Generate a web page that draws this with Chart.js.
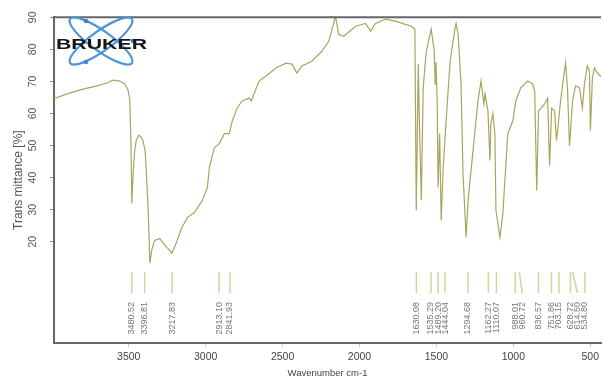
<!DOCTYPE html>
<html><head><meta charset="utf-8">
<script src="https://cdn.jsdelivr.net/npm/chart.js@4"></script>
<style>html,body{margin:0;padding:0;background:#fff}canvas{display:block}</style>
</head><body>
<canvas id="c" width="603" height="379"></canvas>
<script>
const wavenumbers = [3986,3901,3798,3707,3642,3603,3558,3526,3506,3494,3486,3480,3472,3462,3452,3435,3420,3408,3394,3386,3374,3363,3351,3332,3299,3267,3240,3220,3190,3157,3118,3073,3021,2989,2976,2944,2911,2879,2847,2827,2795,2763,2717,2704,2653,2607,2543,2478,2439,2407,2375,2310,2245,2200,2161,2155,2135,2103,2025,1961,1928,1896,1831,1767,1702,1663,1640,1631,1618,1611,1598,1586,1566,1534,1514,1508,1503,1495,1489,1479,1469,1456,1437,1411,1379,1372,1359,1340,1327,1307,1294,1262,1230,1210,1191,1184,1165,1152,1146,1133,1120,1113,1087,1068,1036,1003,984,952,906,874,861,848,836,796,777,764,751,732,719,693,674,660,648,635,615,596,570,551,538,519,505,499,486,473,454,434,430];
const transmittance = [64.6,66.1,67.6,68.6,69.5,70.4,70.1,69.2,67.6,64.5,52,31.9,41,48,51.5,53.2,52.8,51.5,48.5,42,30,13.3,17.3,20.4,21,18.9,17.6,16.4,19.8,24.2,27.6,29.1,32.9,36.9,43.1,49.3,50.6,53.7,53.7,57.7,61.7,63.9,64.8,63.9,70.1,71.7,74.2,75.7,75.4,72.6,74.8,76.3,79.4,82.5,89.4,90,84.7,84.1,87.2,88.1,85.7,88.1,89.4,88.8,87.8,87.2,86.3,29.8,75.4,57.7,32.9,68,79.4,86.3,79.4,69.2,76,63.9,36.9,53.7,26.6,43.1,57.7,76.3,86.6,88.1,84.7,69.2,41.2,21.4,32.9,48.4,63.9,70.1,63,66.1,60.8,45.3,56.8,59.9,53.7,29.8,21.4,28.8,53.7,57.7,63.9,68,70.1,69.2,67,36,60.8,63,64.8,43.7,61.7,60.8,51.5,63.9,71,75.7,68,49.9,63.9,68.6,68,61.7,69.2,74.8,73.2,54.6,71,74.2,72.6,71.7,71.5];
const xTicks = [3500,3000,2500,2000,1500,1000,500];
const yTicks = [20,30,40,50,60,70,80,90];
const peakLabels = ['3480.52','3396.81','3217.83','2913.10','2841.93','1630.08','1535.29','1489.20','1444.04','1294.68','1162.27','1110.07','988.01','960.72','836.57','751.86','703.15','628.72','614.50','534.80'];
const peakPositions = peakLabels.map(Number);

const decor = {
  id: 'decor',
  afterDraw(chart) {
    const {ctx, chartArea: a, scales: {x}} = chart;
    ctx.save();
    // top frame line
    ctx.strokeStyle = '#666'; ctx.lineWidth = 2;
    ctx.beginPath(); ctx.moveTo(a.left - 1, a.top); ctx.lineTo(a.right, a.top); ctx.stroke();
    // peak markers and labels
    let prev = -Infinity;
    const lx = peakPositions.map(p => { let px = x.getPixelForValue(p); if (px < prev + 7) px = prev + 7; prev = px; return px; });
    ctx.strokeStyle = '#cfd89a'; ctx.lineWidth = 1.5;
    peakPositions.forEach((p, i) => {
      const px = x.getPixelForValue(p);
      ctx.beginPath(); ctx.moveTo(px, 272); ctx.lineTo(lx[i], 293); ctx.stroke();
    });
    ctx.fillStyle = '#777'; ctx.font = '9px "Liberation Sans", Arial, sans-serif';
    ctx.textAlign = 'right'; ctx.textBaseline = 'middle';
    peakLabels.forEach((t, i) => {
      ctx.save(); ctx.translate(lx[i], 302); ctx.rotate(-Math.PI / 2); ctx.fillText(t, 0, 0); ctx.restore();
    });
    // logo
    ctx.strokeStyle = '#4a94dc'; ctx.lineWidth = 2.2;
    [0.62, -0.62].forEach(r => {
      ctx.beginPath(); ctx.ellipse(101, 41, 38, 10, r, 0, Math.PI * 2); ctx.stroke();
    });
    ctx.fillStyle = '#3d86d0';
    [[86, 21], [86, 62], [133, 41]].forEach(([cx, cy]) => { ctx.beginPath(); ctx.arc(cx, cy, 2.3, 0, Math.PI * 2); ctx.fill(); });
    ctx.fillStyle = '#151515'; ctx.font = 'bold 15px "Liberation Sans", Arial, sans-serif';
    ctx.textAlign = 'left'; ctx.textBaseline = 'alphabetic';
    const w = ctx.measureText('BRUKER').width;
    ctx.translate(56, 48.5); ctx.scale(91 / w, 1); ctx.fillText('BRUKER', 0, 0);
    ctx.restore();
  }
};

new Chart(document.getElementById('c'), {
  type: 'line',
  data: {
    datasets: [{
      data: wavenumbers.map((w, i) => ({x: w, y: transmittance[i]})),
      borderColor: '#a8a55c', borderWidth: 1.2, pointRadius: 0, tension: 0, fill: false
    }]
  },
  options: {
    responsive: false, devicePixelRatio: 1, animation: false,
    layout: {padding: {top: 16, right: 0, left: 0, bottom: 0}},
    plugins: {legend: {display: false}, tooltip: {enabled: false}},
    scales: {
      x: {
        type: 'linear', reverse: true, min: 430, max: 3986,
        afterBuildTicks: s => { s.ticks = xTicks.map(v => ({value: v})); },
        afterFit: s => { s.height = 36; },
        ticks: {callback: v => String(v), color: '#444', font: {size: 10.5, family: '"Liberation Sans", Arial, sans-serif'}, padding: 4, maxRotation: 0, autoSkip: false},
        grid: {drawOnChartArea: false, drawTicks: true, tickLength: 4, color: '#ccc'},
        border: {display: true, color: '#666', width: 2},
        title: {display: true, text: 'Wavenumber cm-1', color: '#444', font: {size: 9.5, family: '"Liberation Sans", Arial, sans-serif'}, padding: {top: 0, bottom: 0}}
      },
      y: {
        type: 'linear', min: -11.6, max: 90,
        afterBuildTicks: s => { s.ticks = yTicks.map(v => ({value: v})); },
        afterFit: s => { s.width = 54; },
        ticks: {color: '#555', minRotation: 90, maxRotation: 90, crossAlign: 'center', padding: 11, font: {size: 10.5, family: '"Liberation Sans", Arial, sans-serif'}},
        grid: {drawOnChartArea: false, drawTicks: true, tickLength: 4, color: '#888'},
        border: {display: true, color: '#666', width: 2},
        title: {display: true, text: 'Trans mittance [%]', color: '#555', font: {size: 12, family: '"Liberation Sans", Arial, sans-serif'}, padding: {top: 11, bottom: 0}}
      }
    }
  },
  plugins: [decor]
});
</script>
</body></html>
